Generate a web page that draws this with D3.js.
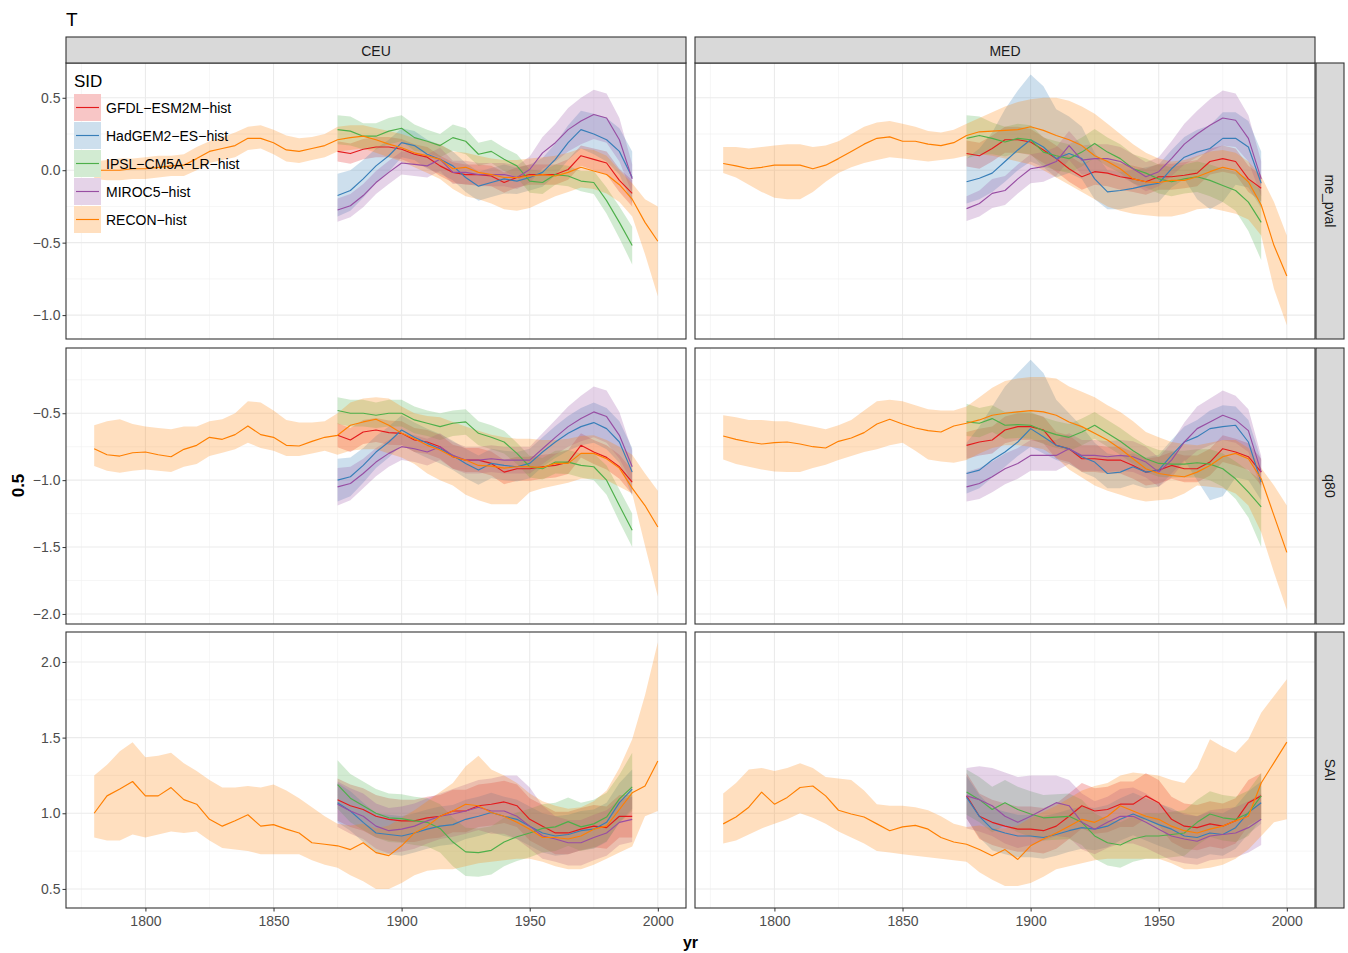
<!DOCTYPE html>
<html><head><meta charset="utf-8">
<script src="https://cdn.jsdelivr.net/npm/d3@7"></script>
<style>
body{margin:0;background:#fff;}
text{font-family:"Liberation Sans",Arial,Helvetica,sans-serif;}
</style>
</head><body>
<svg id="chart" width="1348" height="953"></svg>
<script>
// ---------------- DATA ----------------
const recon_years = [1780,1785,1790,1795,1800,1805,1810,1815,1820,1825,1830,1835,1840,1845,1850,1855,1860,1865,1870,1875,1880,1885,1890,1895,1900,1905,1910,1915,1920,1925,1930,1935,1940,1945,1950,1955,1960,1965,1970,1975,1980,1985,1990,1995,2000];
const model_years = [1875,1880,1885,1890,1895,1900,1905,1910,1915,1920,1925,1930,1935,1940,1945,1950,1955,1960,1965,1970,1975,1980,1985,1990];
const regions = ["CEU","MED"];
const metrics = ["me_pval","q80","SAI"];
const sid_keys = ["gfdl","hadgem","ipsl","miroc","recon"];
const sid_labels = ["GFDL\u2212ESM2M\u2212hist","HadGEM2\u2212ES\u2212hist","IPSL\u2212CM5A\u2212LR\u2212hist","MIROC5\u2212hist","RECON\u2212hist"];
const x_ticks = [1800,1850,1900,1950,2000];
const x_minor = [1775,1825,1875,1925,1975];
const y_ticks_me_pval = [-1.0,-0.5,0.0,0.5];
const y_minor_me_pval = [-0.75,-0.25,0.25];
const y_ticks_q80 = [-2.0,-1.5,-1.0,-0.5];
const y_minor_q80 = [-1.75,-1.25,-0.75,-0.25];
const y_ticks_SAI = [0.5,1.0,1.5,2.0];
const y_minor_SAI = [0.75,1.25,1.75];
const y_limits_me_pval = [-1.165,0.74];
const y_limits_q80 = [-2.075,-0.0125];
const y_limits_SAI = [0.374,2.198];
const x_limits = [1769,2011];

// CEU me_pval
const ceu_pval_recon = [0.0,0.0,0.0,0.01,0.01,0.02,0.03,0.035,0.08,0.13,0.15,0.17,0.22,0.22,0.19,0.14,0.13,0.15,0.17,0.21,0.225,0.235,0.21,0.18,0.155,0.12,0.1,0.075,0.01,0.02,-0.015,-0.03,-0.05,-0.05,-0.04,-0.03,-0.04,-0.015,0.02,-0.005,-0.03,-0.1,-0.2,-0.36,-0.49];
const ceu_pval_recon_hi = [0.06,0.07,0.08,0.08,0.09,0.1,0.1,0.11,0.16,0.2,0.23,0.26,0.3,0.31,0.28,0.24,0.22,0.23,0.25,0.3,0.31,0.31,0.29,0.27,0.25,0.22,0.2,0.18,0.13,0.12,0.1,0.08,0.07,0.07,0.08,0.09,0.1,0.12,0.15,0.14,0.1,0.0,-0.09,-0.2,-0.25];
const ceu_pval_recon_lo = [-0.06,-0.07,-0.07,-0.06,-0.06,-0.05,-0.04,-0.04,0.0,0.05,0.07,0.09,0.14,0.15,0.11,0.06,0.05,0.07,0.09,0.13,0.14,0.15,0.12,0.09,0.06,0.02,-0.02,-0.06,-0.13,-0.18,-0.2,-0.23,-0.27,-0.28,-0.26,-0.22,-0.18,-0.15,-0.12,-0.13,-0.16,-0.22,-0.32,-0.58,-0.87];
const ceu_pval_gfdl = [0.13,0.115,0.145,0.16,0.16,0.145,0.11,0.09,0.03,-0.015,-0.03,-0.03,-0.04,-0.085,-0.05,-0.03,-0.03,-0.03,0.005,0.1,0.075,0.05,-0.07,-0.16];
const ceu_pval_gfdl_lo = [0.06,0.045,0.075,0.09,0.09,0.075,0.04,0.02,-0.04,-0.085,-0.1,-0.1,-0.11,-0.155,-0.12,-0.1,-0.1,-0.1,-0.065,0.03,0.0,-0.03,-0.15,-0.25];
const ceu_pval_gfdl_hi = [0.2,0.185,0.215,0.23,0.23,0.215,0.18,0.16,0.1,0.055,0.04,0.04,0.03,-0.015,0.02,0.04,0.04,0.04,0.075,0.17,0.15,0.13,0.01,-0.07];
const ceu_pval_hadgem = [-0.175,-0.14,-0.06,0.03,0.1,0.19,0.17,0.11,0.075,0.03,-0.05,-0.11,-0.085,-0.06,-0.075,-0.05,-0.015,0.075,0.19,0.28,0.25,0.21,0.13,-0.05];
const ceu_pval_hadgem_lo = [-0.32,-0.28,-0.19,-0.09,-0.01,0.09,0.07,0.01,-0.025,-0.07,-0.15,-0.21,-0.185,-0.16,-0.165,-0.14,-0.115,-0.035,0.07,0.15,0.11,0.06,-0.03,-0.23];
const ceu_pval_hadgem_hi = [-0.025,0.0,0.07,0.15,0.21,0.29,0.27,0.21,0.175,0.13,0.05,-0.01,0.015,0.04,0.015,0.04,0.085,0.185,0.31,0.41,0.39,0.36,0.29,0.13];
const ceu_pval_ipsl = [0.28,0.27,0.235,0.235,0.27,0.29,0.225,0.2,0.17,0.225,0.2,0.11,0.13,0.075,0.03,-0.075,-0.085,-0.03,-0.04,-0.075,-0.085,-0.21,-0.36,-0.52];
const ceu_pval_ipsl_lo = [0.18,0.17,0.145,0.145,0.18,0.2,0.135,0.12,0.09,0.135,0.11,0.03,0.05,-0.005,-0.05,-0.155,-0.165,-0.1,-0.11,-0.145,-0.165,-0.3,-0.47,-0.65];
const ceu_pval_ipsl_hi = [0.38,0.37,0.325,0.325,0.36,0.38,0.315,0.28,0.25,0.315,0.29,0.19,0.21,0.155,0.11,0.005,-0.005,0.04,0.03,-0.005,-0.005,-0.12,-0.25,-0.39];
const ceu_pval_miroc = [-0.275,-0.245,-0.175,-0.085,-0.015,0.05,0.04,0.03,0.075,-0.015,-0.015,-0.03,-0.03,-0.03,-0.05,0.005,0.12,0.19,0.28,0.34,0.385,0.36,0.21,-0.06];
const ceu_pval_miroc_lo = [-0.355,-0.325,-0.255,-0.165,-0.095,-0.03,-0.04,-0.05,-0.005,-0.095,-0.095,-0.11,-0.11,-0.11,-0.13,-0.085,0.01,0.06,0.13,0.18,0.215,0.19,0.06,-0.16];
const ceu_pval_miroc_hi = [-0.195,-0.165,-0.095,-0.005,0.065,0.13,0.12,0.11,0.155,0.065,0.065,0.05,0.05,0.05,0.03,0.095,0.23,0.32,0.43,0.5,0.555,0.53,0.36,0.04];

// MED me_pval
const med_pval_recon = [0.046,0.03,0.01,0.02,0.035,0.035,0.035,0.01,0.035,0.08,0.13,0.18,0.22,0.23,0.2,0.2,0.18,0.17,0.19,0.24,0.265,0.27,0.275,0.28,0.3,0.275,0.24,0.21,0.17,0.1,0.06,0.01,-0.06,-0.08,-0.085,-0.07,-0.07,-0.045,-0.01,0.02,0.0,-0.08,-0.24,-0.52,-0.73];
const med_pval_recon_hi = [0.16,0.16,0.15,0.16,0.17,0.18,0.18,0.16,0.17,0.2,0.25,0.3,0.33,0.34,0.32,0.3,0.27,0.26,0.28,0.32,0.36,0.4,0.44,0.47,0.49,0.5,0.5,0.48,0.44,0.39,0.32,0.25,0.18,0.12,0.08,0.06,0.07,0.1,0.13,0.14,0.12,0.06,-0.04,-0.22,-0.45];
const med_pval_recon_lo = [-0.02,-0.05,-0.1,-0.15,-0.19,-0.2,-0.2,-0.15,-0.08,-0.02,0.02,0.05,0.07,0.09,0.08,0.07,0.06,0.07,0.08,0.1,0.11,0.1,0.08,0.06,0.04,0.0,-0.05,-0.1,-0.15,-0.2,-0.25,-0.28,-0.3,-0.31,-0.32,-0.32,-0.3,-0.27,-0.26,-0.28,-0.3,-0.34,-0.45,-0.82,-1.07];
const med_pval_gfdl = [0.115,0.1,0.15,0.21,0.21,0.195,0.14,0.08,0.01,-0.045,-0.01,-0.02,-0.045,-0.06,-0.08,-0.045,-0.045,-0.035,-0.02,0.06,0.08,0.06,-0.06,-0.125];
const med_pval_gfdl_lo = [0.025,0.01,0.06,0.12,0.12,0.105,0.05,-0.01,-0.08,-0.135,-0.1,-0.11,-0.135,-0.15,-0.17,-0.135,-0.135,-0.125,-0.11,-0.03,-0.01,-0.03,-0.15,-0.215];
const med_pval_gfdl_hi = [0.205,0.19,0.24,0.3,0.3,0.285,0.23,0.17,0.1,0.045,0.08,0.07,0.045,0.03,0.01,0.045,0.045,0.055,0.07,0.15,0.17,0.15,0.03,-0.035];
const med_pval_hadgem = [-0.08,-0.055,-0.02,0.06,0.14,0.21,0.16,0.08,0.115,0.08,-0.06,-0.15,-0.14,-0.125,-0.105,-0.09,0.01,0.09,0.125,0.15,0.22,0.22,0.16,-0.09];
const med_pval_hadgem_lo = [-0.23,-0.2,-0.15,-0.08,0.0,0.06,0.02,-0.05,-0.02,-0.06,-0.2,-0.27,-0.27,-0.25,-0.23,-0.22,-0.12,-0.06,-0.2,-0.27,-0.22,-0.1,-0.12,-0.26];
const med_pval_hadgem_hi = [0.08,0.15,0.26,0.42,0.55,0.66,0.58,0.42,0.37,0.3,0.12,0.0,-0.01,0.0,0.02,0.04,0.14,0.23,0.28,0.31,0.4,0.4,0.34,0.13];
const med_pval_ipsl = [0.22,0.24,0.22,0.195,0.22,0.21,0.125,0.1,0.08,0.125,0.185,0.125,0.08,0.01,-0.02,-0.06,-0.08,-0.06,-0.045,-0.07,-0.105,-0.14,-0.22,-0.36];
const med_pval_ipsl_lo = [0.08,0.11,0.11,0.095,0.12,0.11,0.025,0.0,-0.02,0.025,0.085,0.025,-0.02,-0.09,-0.12,-0.16,-0.18,-0.16,-0.15,-0.18,-0.22,-0.28,-0.42,-0.62];
const med_pval_ipsl_hi = [0.38,0.37,0.33,0.3,0.32,0.31,0.225,0.2,0.18,0.225,0.285,0.225,0.18,0.11,0.08,0.04,0.02,0.04,0.06,0.04,0.01,-0.01,-0.06,-0.14];
const med_pval_miroc = [-0.265,-0.23,-0.16,-0.14,-0.06,0.01,0.025,0.06,0.17,0.07,0.08,0.08,0.06,0.01,-0.045,-0.01,0.08,0.18,0.25,0.31,0.36,0.345,0.22,-0.06];
const med_pval_miroc_lo = [-0.35,-0.32,-0.26,-0.24,-0.16,-0.09,-0.08,-0.04,0.07,-0.03,-0.02,-0.02,-0.04,-0.09,-0.145,-0.11,-0.04,0.04,0.09,0.13,0.17,0.16,0.06,-0.18];
const med_pval_miroc_hi = [-0.18,-0.14,-0.06,-0.04,0.04,0.11,0.125,0.16,0.27,0.17,0.18,0.18,0.16,0.11,0.055,0.09,0.2,0.32,0.41,0.49,0.55,0.53,0.38,0.06];

// CEU q80
const ceu_q80_recon = [-0.765,-0.81,-0.82,-0.795,-0.79,-0.81,-0.825,-0.77,-0.74,-0.68,-0.695,-0.66,-0.595,-0.66,-0.68,-0.74,-0.745,-0.71,-0.68,-0.665,-0.59,-0.565,-0.545,-0.59,-0.65,-0.69,-0.74,-0.775,-0.825,-0.85,-0.89,-0.895,-0.91,-0.9,-0.9,-0.905,-0.875,-0.875,-0.8,-0.8,-0.84,-0.91,-1.06,-1.19,-1.35];
const ceu_q80_recon_hi = [-0.59,-0.56,-0.545,-0.58,-0.6,-0.61,-0.62,-0.6,-0.6,-0.56,-0.545,-0.5,-0.41,-0.42,-0.48,-0.55,-0.57,-0.57,-0.56,-0.5,-0.42,-0.39,-0.38,-0.39,-0.45,-0.5,-0.52,-0.53,-0.565,-0.6,-0.63,-0.66,-0.68,-0.69,-0.69,-0.7,-0.7,-0.69,-0.67,-0.665,-0.7,-0.75,-0.81,-0.95,-1.08];
const ceu_q80_recon_lo = [-0.895,-0.93,-0.945,-0.93,-0.92,-0.93,-0.94,-0.9,-0.88,-0.82,-0.795,-0.77,-0.72,-0.76,-0.78,-0.82,-0.82,-0.8,-0.78,-0.81,-0.78,-0.77,-0.77,-0.8,-0.83,-0.88,-0.95,-1.0,-1.04,-1.11,-1.15,-1.18,-1.18,-1.18,-1.09,-1.06,-1.04,-1.02,-0.99,-0.99,-1.0,-1.05,-1.1,-1.49,-1.87];
const ceu_q80_gfdl = [-0.665,-0.7,-0.64,-0.625,-0.645,-0.65,-0.7,-0.715,-0.75,-0.825,-0.85,-0.85,-0.875,-0.94,-0.915,-0.915,-0.9,-0.89,-0.865,-0.74,-0.79,-0.83,-0.9,-1.015];
const ceu_q80_gfdl_lo = [-0.755,-0.79,-0.73,-0.715,-0.735,-0.74,-0.79,-0.805,-0.84,-0.915,-0.94,-0.94,-0.965,-1.03,-1.005,-1.005,-0.99,-0.98,-0.955,-0.83,-0.88,-0.92,-0.99,-1.105];
const ceu_q80_gfdl_hi = [-0.575,-0.61,-0.55,-0.535,-0.555,-0.56,-0.61,-0.625,-0.66,-0.735,-0.76,-0.76,-0.785,-0.85,-0.825,-0.825,-0.81,-0.8,-0.775,-0.65,-0.7,-0.74,-0.81,-0.925];
const ceu_q80_hadgem = [-1.0,-0.975,-0.89,-0.79,-0.715,-0.625,-0.68,-0.725,-0.765,-0.815,-0.875,-0.925,-0.875,-0.89,-0.9,-0.875,-0.79,-0.715,-0.65,-0.6,-0.57,-0.615,-0.715,-0.94];
const ceu_q80_hadgem_lo = [-1.16,-1.12,-1.02,-0.91,-0.83,-0.735,-0.79,-0.835,-0.875,-0.925,-0.985,-1.035,-0.985,-1.0,-1.01,-0.985,-0.9,-0.835,-0.78,-0.74,-0.72,-0.77,-0.87,-1.12];
const ceu_q80_hadgem_hi = [-0.84,-0.83,-0.76,-0.67,-0.6,-0.515,-0.57,-0.615,-0.655,-0.705,-0.765,-0.815,-0.765,-0.78,-0.79,-0.765,-0.68,-0.595,-0.52,-0.46,-0.42,-0.46,-0.56,-0.76];
const ceu_q80_ipsl = [-0.48,-0.5,-0.5,-0.515,-0.5,-0.5,-0.55,-0.575,-0.6,-0.575,-0.565,-0.65,-0.68,-0.715,-0.8,-0.9,-0.915,-0.865,-0.865,-0.89,-0.9,-1.0,-1.19,-1.375];
const ceu_q80_ipsl_lo = [-0.58,-0.6,-0.6,-0.61,-0.6,-0.6,-0.65,-0.67,-0.7,-0.67,-0.66,-0.74,-0.77,-0.8,-0.88,-0.98,-0.995,-0.95,-0.955,-0.98,-1.0,-1.11,-1.31,-1.5];
const ceu_q80_ipsl_hi = [-0.38,-0.4,-0.4,-0.42,-0.4,-0.4,-0.45,-0.48,-0.5,-0.48,-0.47,-0.56,-0.59,-0.63,-0.72,-0.82,-0.835,-0.78,-0.775,-0.8,-0.8,-0.89,-1.07,-1.25];
const ceu_q80_miroc = [-1.05,-1.025,-0.95,-0.865,-0.8,-0.75,-0.765,-0.79,-0.75,-0.815,-0.85,-0.85,-0.84,-0.85,-0.85,-0.85,-0.765,-0.68,-0.6,-0.54,-0.49,-0.525,-0.665,-0.9];
const ceu_q80_miroc_lo = [-1.19,-1.15,-1.06,-0.97,-0.9,-0.85,-0.865,-0.89,-0.85,-0.915,-0.95,-0.95,-0.94,-0.95,-0.95,-0.95,-0.88,-0.81,-0.75,-0.71,-0.68,-0.72,-0.84,-1.02];
const ceu_q80_miroc_hi = [-0.91,-0.9,-0.84,-0.76,-0.7,-0.65,-0.665,-0.69,-0.65,-0.715,-0.75,-0.75,-0.74,-0.75,-0.75,-0.75,-0.65,-0.55,-0.45,-0.37,-0.3,-0.33,-0.49,-0.78];

// MED q80
const med_q80_recon = [-0.67,-0.695,-0.715,-0.73,-0.72,-0.715,-0.73,-0.75,-0.76,-0.71,-0.685,-0.645,-0.58,-0.545,-0.58,-0.61,-0.63,-0.64,-0.595,-0.575,-0.55,-0.515,-0.5,-0.49,-0.48,-0.49,-0.515,-0.565,-0.6,-0.65,-0.7,-0.765,-0.84,-0.915,-0.95,-0.965,-0.975,-0.94,-0.89,-0.825,-0.8,-0.84,-0.99,-1.265,-1.54];
const med_q80_recon_hi = [-0.515,-0.53,-0.55,-0.55,-0.56,-0.56,-0.58,-0.6,-0.62,-0.59,-0.55,-0.48,-0.41,-0.4,-0.41,-0.44,-0.47,-0.48,-0.48,-0.45,-0.38,-0.31,-0.26,-0.24,-0.23,-0.23,-0.24,-0.3,-0.34,-0.38,-0.44,-0.49,-0.56,-0.64,-0.68,-0.715,-0.73,-0.74,-0.72,-0.7,-0.7,-0.76,-0.91,-1.04,-1.19];
const med_q80_recon_lo = [-0.845,-0.88,-0.9,-0.92,-0.935,-0.94,-0.94,-0.91,-0.885,-0.85,-0.82,-0.79,-0.77,-0.74,-0.72,-0.78,-0.845,-0.86,-0.87,-0.85,-0.8,-0.76,-0.74,-0.74,-0.75,-0.77,-0.83,-0.92,-0.98,-1.04,-1.08,-1.11,-1.14,-1.16,-1.15,-1.14,-1.1,-1.04,-1.05,-1.06,-1.1,-1.19,-1.39,-1.69,-1.97];
const med_q80_gfdl = [-0.74,-0.715,-0.7,-0.625,-0.6,-0.6,-0.625,-0.74,-0.765,-0.84,-0.84,-0.85,-0.85,-0.89,-0.94,-0.925,-0.89,-0.915,-0.915,-0.865,-0.765,-0.79,-0.825,-0.94];
const med_q80_gfdl_lo = [-0.84,-0.815,-0.8,-0.725,-0.7,-0.7,-0.725,-0.84,-0.865,-0.94,-0.94,-0.95,-0.95,-0.99,-1.04,-1.025,-0.99,-1.015,-1.015,-0.965,-0.865,-0.89,-0.925,-1.04];
const med_q80_gfdl_hi = [-0.64,-0.615,-0.6,-0.525,-0.5,-0.5,-0.525,-0.64,-0.665,-0.74,-0.74,-0.75,-0.75,-0.79,-0.84,-0.825,-0.79,-0.815,-0.815,-0.765,-0.665,-0.69,-0.725,-0.84];
const med_q80_hadgem = [-0.95,-0.925,-0.85,-0.79,-0.715,-0.615,-0.675,-0.74,-0.765,-0.825,-0.865,-0.95,-0.94,-0.9,-0.94,-0.925,-0.815,-0.715,-0.675,-0.615,-0.6,-0.59,-0.715,-1.015];
const med_q80_hadgem_lo = [-1.1,-1.06,-0.98,-0.9,-0.82,-0.75,-0.8,-0.85,-0.88,-0.94,-0.98,-1.06,-1.06,-1.03,-1.06,-1.05,-0.95,-0.85,-1.0,-1.15,-1.12,-0.98,-1.0,-1.15];
const med_q80_hadgem_hi = [-0.72,-0.6,-0.45,-0.3,-0.2,-0.1,-0.2,-0.4,-0.5,-0.6,-0.72,-0.8,-0.82,-0.8,-0.83,-0.81,-0.7,-0.6,-0.55,-0.48,-0.44,-0.45,-0.55,-0.85];
const med_q80_ipsl = [-0.565,-0.575,-0.54,-0.59,-0.585,-0.59,-0.63,-0.66,-0.68,-0.64,-0.59,-0.65,-0.71,-0.78,-0.84,-0.875,-0.88,-0.88,-0.87,-0.88,-0.915,-0.99,-1.09,-1.2];
const med_q80_ipsl_lo = [-0.67,-0.68,-0.64,-0.69,-0.685,-0.69,-0.73,-0.76,-0.78,-0.74,-0.69,-0.75,-0.81,-0.88,-0.94,-0.975,-0.98,-0.98,-0.98,-1.0,-1.05,-1.14,-1.28,-1.5];
const med_q80_ipsl_hi = [-0.43,-0.46,-0.44,-0.49,-0.485,-0.49,-0.53,-0.56,-0.58,-0.54,-0.49,-0.55,-0.61,-0.68,-0.74,-0.775,-0.78,-0.78,-0.77,-0.77,-0.8,-0.86,-0.93,-1.0];
const med_q80_miroc = [-1.05,-1.025,-0.975,-0.915,-0.875,-0.815,-0.815,-0.815,-0.765,-0.815,-0.815,-0.825,-0.815,-0.825,-0.865,-0.94,-0.85,-0.715,-0.615,-0.565,-0.515,-0.55,-0.63,-0.94];
const med_q80_miroc_lo = [-1.16,-1.14,-1.09,-1.03,-0.99,-0.93,-0.93,-0.93,-0.88,-0.93,-0.93,-0.94,-0.93,-0.94,-0.98,-1.05,-0.98,-0.86,-0.78,-0.74,-0.7,-0.72,-0.79,-1.06];
const med_q80_miroc_hi = [-0.94,-0.91,-0.86,-0.8,-0.76,-0.7,-0.7,-0.7,-0.65,-0.7,-0.7,-0.71,-0.7,-0.71,-0.75,-0.83,-0.72,-0.57,-0.45,-0.39,-0.33,-0.37,-0.47,-0.82];

// CEU SAI
const ceu_sai_recon = [1.0,1.115,1.16,1.21,1.115,1.115,1.17,1.09,1.06,0.96,0.915,0.95,0.99,0.915,0.925,0.895,0.87,0.805,0.795,0.785,0.76,0.805,0.74,0.72,0.785,0.87,0.915,0.98,1.015,1.06,1.05,1.005,0.98,0.94,0.895,0.84,0.84,0.83,0.85,0.895,0.915,1.025,1.135,1.18,1.345];
const ceu_sai_recon_hi = [1.25,1.32,1.41,1.47,1.37,1.38,1.4,1.33,1.28,1.22,1.17,1.17,1.18,1.17,1.19,1.15,1.1,1.04,0.98,0.93,0.92,0.93,0.9,0.92,0.97,1.02,1.08,1.14,1.2,1.31,1.38,1.29,1.25,1.2,1.13,1.08,1.05,1.03,1.04,1.08,1.15,1.3,1.49,1.78,2.13];
const ceu_sai_recon_lo = [0.84,0.82,0.82,0.86,0.84,0.86,0.88,0.87,0.88,0.82,0.77,0.76,0.75,0.73,0.73,0.73,0.73,0.69,0.66,0.64,0.59,0.55,0.5,0.5,0.54,0.59,0.62,0.63,0.63,0.65,0.67,0.68,0.69,0.7,0.7,0.68,0.65,0.63,0.63,0.66,0.7,0.74,0.78,0.98,1.015];
const ceu_sai_gfdl = [1.09,1.05,1.025,0.98,0.96,0.95,0.95,0.97,0.98,1.015,1.015,1.05,1.06,1.075,1.05,0.96,0.915,0.87,0.87,0.895,0.915,0.905,0.98,0.98];
const ceu_sai_gfdl_lo = [0.95,0.91,0.885,0.84,0.82,0.81,0.81,0.83,0.84,0.875,0.875,0.91,0.92,0.935,0.91,0.82,0.775,0.73,0.73,0.755,0.775,0.765,0.84,0.84];
const ceu_sai_gfdl_hi = [1.23,1.19,1.165,1.12,1.1,1.09,1.09,1.11,1.12,1.155,1.155,1.19,1.2,1.215,1.19,1.1,1.055,1.01,1.01,1.035,1.055,1.045,1.12,1.12];
const ceu_sai_hadgem = [1.07,1.015,0.94,0.87,0.86,0.85,0.87,0.895,0.915,0.925,0.96,0.98,1.005,0.98,0.96,0.915,0.87,0.85,0.86,0.885,0.895,0.94,1.07,1.16];
const ceu_sai_hadgem_lo = [0.94,0.885,0.81,0.74,0.73,0.72,0.74,0.765,0.785,0.795,0.83,0.85,0.875,0.85,0.83,0.785,0.74,0.72,0.73,0.755,0.765,0.81,0.94,1.03];
const ceu_sai_hadgem_hi = [1.2,1.145,1.07,1.0,0.99,0.98,1.0,1.025,1.045,1.055,1.09,1.11,1.135,1.11,1.09,1.045,1.0,0.98,0.99,1.015,1.025,1.07,1.2,1.29];
const ceu_sai_ipsl = [1.19,1.1,1.05,1.0,0.97,0.965,0.95,0.94,0.9,0.81,0.745,0.74,0.755,0.81,0.845,0.87,0.9,0.91,0.945,0.91,0.93,0.975,1.095,1.175];
const ceu_sai_ipsl_lo = [1.03,0.94,0.89,0.84,0.81,0.805,0.79,0.78,0.74,0.65,0.585,0.58,0.595,0.65,0.685,0.71,0.74,0.75,0.785,0.75,0.77,0.815,0.935,1.015];
const ceu_sai_ipsl_hi = [1.35,1.26,1.21,1.16,1.13,1.125,1.11,1.1,1.06,0.97,0.905,0.9,0.915,0.97,1.005,1.03,1.06,1.07,1.105,1.07,1.09,1.135,1.255,1.4];
const ceu_sai_miroc = [1.06,1.015,0.98,0.915,0.885,0.895,0.915,0.95,0.98,0.995,1.015,1.04,1.015,1.015,0.98,0.915,0.85,0.83,0.805,0.805,0.84,0.87,0.94,0.96];
const ceu_sai_miroc_lo = [0.91,0.865,0.83,0.765,0.735,0.745,0.765,0.8,0.83,0.845,0.865,0.89,0.865,0.865,0.83,0.765,0.7,0.68,0.655,0.655,0.69,0.72,0.79,0.81];
const ceu_sai_miroc_hi = [1.21,1.165,1.13,1.065,1.035,1.045,1.065,1.1,1.13,1.16,1.19,1.22,1.23,1.25,1.25,1.17,1.05,0.98,0.955,0.955,0.99,1.02,1.09,1.11];

// MED SAI
const med_sai_recon = [0.93,0.975,1.04,1.14,1.06,1.105,1.17,1.18,1.115,1.02,0.995,0.975,0.93,0.885,0.91,0.92,0.895,0.84,0.81,0.795,0.76,0.72,0.76,0.695,0.785,0.83,0.87,0.915,0.96,0.94,0.98,1.05,1.015,0.98,0.96,0.915,0.885,0.87,0.895,0.915,0.95,0.98,1.2,1.335,1.47];
const med_sai_recon_hi = [1.13,1.2,1.29,1.3,1.28,1.3,1.33,1.3,1.24,1.23,1.22,1.15,1.06,1.05,1.05,1.04,1.02,0.98,0.93,0.91,0.92,0.9,0.9,0.92,0.97,1.01,1.05,1.1,1.15,1.18,1.2,1.25,1.27,1.26,1.25,1.22,1.2,1.3,1.49,1.44,1.4,1.49,1.665,1.775,1.885];
const med_sai_recon_lo = [0.8,0.82,0.86,0.9,0.93,0.96,1.0,0.97,0.93,0.88,0.84,0.8,0.75,0.74,0.73,0.72,0.71,0.7,0.69,0.68,0.61,0.56,0.52,0.52,0.54,0.58,0.63,0.65,0.67,0.69,0.7,0.7,0.7,0.7,0.7,0.67,0.63,0.63,0.64,0.66,0.7,0.76,0.85,0.94,0.96];
const med_sai_gfdl = [1.115,0.98,0.94,0.915,0.895,0.895,0.885,0.915,0.98,1.05,1.015,1.025,1.06,1.06,1.115,1.07,0.96,0.915,0.905,0.93,0.915,0.95,1.07,1.115];
const med_sai_gfdl_lo = [0.965,0.83,0.79,0.765,0.745,0.745,0.735,0.765,0.83,0.9,0.865,0.875,0.91,0.91,0.965,0.92,0.81,0.765,0.755,0.78,0.765,0.8,0.92,0.965];
const med_sai_gfdl_hi = [1.265,1.13,1.09,1.065,1.045,1.045,1.035,1.065,1.13,1.2,1.165,1.175,1.21,1.21,1.265,1.22,1.11,1.065,1.055,1.08,1.065,1.1,1.22,1.265];
const med_sai_hadgem = [1.105,0.98,0.895,0.87,0.85,0.85,0.84,0.86,0.885,0.905,0.895,0.915,0.96,0.995,0.96,0.925,0.895,0.85,0.84,0.87,0.86,0.905,1.005,1.07];
const med_sai_hadgem_lo = [0.965,0.84,0.755,0.73,0.71,0.71,0.7,0.72,0.745,0.765,0.755,0.775,0.82,0.855,0.82,0.785,0.755,0.71,0.7,0.73,0.72,0.765,0.865,0.93];
const med_sai_hadgem_hi = [1.245,1.12,1.035,1.01,0.99,0.99,0.98,1.0,1.025,1.045,1.035,1.055,1.1,1.135,1.1,1.065,1.035,0.99,0.98,1.01,1.0,1.045,1.145,1.21];
const med_sai_ipsl = [1.14,1.09,1.025,1.07,1.025,0.995,0.97,0.975,0.98,0.94,0.85,0.805,0.79,0.83,0.85,0.85,0.86,0.87,0.94,0.995,0.97,0.96,1.0,1.115];
const med_sai_ipsl_lo = [0.99,0.94,0.875,0.92,0.875,0.845,0.82,0.825,0.83,0.79,0.7,0.655,0.64,0.68,0.7,0.7,0.71,0.72,0.79,0.845,0.82,0.81,0.85,0.965];
const med_sai_ipsl_hi = [1.29,1.24,1.175,1.22,1.175,1.145,1.12,1.125,1.13,1.09,1.0,0.955,0.94,0.98,1.0,1.0,1.01,1.02,1.09,1.145,1.12,1.11,1.15,1.265];
const med_sai_miroc = [1.115,1.09,1.05,0.98,0.94,0.98,1.025,1.07,1.05,0.94,0.895,0.94,0.98,0.98,0.94,0.895,0.85,0.83,0.815,0.85,0.86,0.87,0.905,0.96];
const med_sai_miroc_lo = [0.9,0.88,0.85,0.8,0.77,0.79,0.82,0.85,0.84,0.76,0.73,0.77,0.8,0.8,0.77,0.73,0.69,0.67,0.66,0.69,0.7,0.71,0.74,0.79];
const med_sai_miroc_hi = [1.3,1.31,1.3,1.27,1.24,1.25,1.25,1.25,1.22,1.13,1.08,1.11,1.16,1.17,1.13,1.07,1.02,1.0,0.98,1.02,1.03,1.04,1.08,1.13];

// ---------------- TABLE BUILT FROM ARRAYS ----------------
const table = {
  CEU: {
    me_pval: {gfdl:[ceu_pval_gfdl,ceu_pval_gfdl_lo,ceu_pval_gfdl_hi], hadgem:[ceu_pval_hadgem,ceu_pval_hadgem_lo,ceu_pval_hadgem_hi], ipsl:[ceu_pval_ipsl,ceu_pval_ipsl_lo,ceu_pval_ipsl_hi], miroc:[ceu_pval_miroc,ceu_pval_miroc_lo,ceu_pval_miroc_hi], recon:[ceu_pval_recon,ceu_pval_recon_lo,ceu_pval_recon_hi]},
    q80: {gfdl:[ceu_q80_gfdl,ceu_q80_gfdl_lo,ceu_q80_gfdl_hi], hadgem:[ceu_q80_hadgem,ceu_q80_hadgem_lo,ceu_q80_hadgem_hi], ipsl:[ceu_q80_ipsl,ceu_q80_ipsl_lo,ceu_q80_ipsl_hi], miroc:[ceu_q80_miroc,ceu_q80_miroc_lo,ceu_q80_miroc_hi], recon:[ceu_q80_recon,ceu_q80_recon_lo,ceu_q80_recon_hi]},
    SAI: {gfdl:[ceu_sai_gfdl,ceu_sai_gfdl_lo,ceu_sai_gfdl_hi], hadgem:[ceu_sai_hadgem,ceu_sai_hadgem_lo,ceu_sai_hadgem_hi], ipsl:[ceu_sai_ipsl,ceu_sai_ipsl_lo,ceu_sai_ipsl_hi], miroc:[ceu_sai_miroc,ceu_sai_miroc_lo,ceu_sai_miroc_hi], recon:[ceu_sai_recon,ceu_sai_recon_lo,ceu_sai_recon_hi]}
  },
  MED: {
    me_pval: {gfdl:[med_pval_gfdl,med_pval_gfdl_lo,med_pval_gfdl_hi], hadgem:[med_pval_hadgem,med_pval_hadgem_lo,med_pval_hadgem_hi], ipsl:[med_pval_ipsl,med_pval_ipsl_lo,med_pval_ipsl_hi], miroc:[med_pval_miroc,med_pval_miroc_lo,med_pval_miroc_hi], recon:[med_pval_recon,med_pval_recon_lo,med_pval_recon_hi]},
    q80: {gfdl:[med_q80_gfdl,med_q80_gfdl_lo,med_q80_gfdl_hi], hadgem:[med_q80_hadgem,med_q80_hadgem_lo,med_q80_hadgem_hi], ipsl:[med_q80_ipsl,med_q80_ipsl_lo,med_q80_ipsl_hi], miroc:[med_q80_miroc,med_q80_miroc_lo,med_q80_miroc_hi], recon:[med_q80_recon,med_q80_recon_lo,med_q80_recon_hi]},
    SAI: {gfdl:[med_sai_gfdl,med_sai_gfdl_lo,med_sai_gfdl_hi], hadgem:[med_sai_hadgem,med_sai_hadgem_lo,med_sai_hadgem_hi], ipsl:[med_sai_ipsl,med_sai_ipsl_lo,med_sai_ipsl_hi], miroc:[med_sai_miroc,med_sai_miroc_lo,med_sai_miroc_hi], recon:[med_sai_recon,med_sai_recon_lo,med_sai_recon_hi]}
  }
};
const yTicks = {me_pval:y_ticks_me_pval, q80:y_ticks_q80, SAI:y_ticks_SAI};
const yMinor = {me_pval:y_minor_me_pval, q80:y_minor_q80, SAI:y_minor_SAI};
const yLim = {me_pval:y_limits_me_pval, q80:y_limits_q80, SAI:y_limits_SAI};

// ---------------- LAYOUT / STYLE ----------------
const colors = {gfdl:"#E41A1C", hadgem:"#377EB8", ipsl:"#4DAF4A", miroc:"#984EA3", recon:"#FF7F00"};
const colX = [66, 695], panelW = 620;
const rowY = [63, 348, 632], panelH = 276;
const stripTop = 37, stripH = 26, stripRX = 1316, stripW = 28;
const FONT = '"Liberation Sans",Arial,Helvetica,sans-serif';

const svg = d3.select("#chart");
svg.append("rect").attr("width",1348).attr("height",953).attr("fill","#fff");
const x = d3.scaleLinear().domain(x_limits).range([0, panelW]);
const fmt = d3.format(".1f");
const defs = svg.append("defs");

regions.forEach((reg, c) => {
  metrics.forEach((met, r) => {
    const g = svg.append("g").attr("transform", `translate(${colX[c]},${rowY[r]})`);
    const y = d3.scaleLinear().domain(yLim[met]).range([panelH, 0]);
    const cid = `clip-${c}-${r}`;
    defs.append("clipPath").attr("id", cid).append("rect").attr("width", panelW).attr("height", panelH);
    g.append("rect").attr("width", panelW).attr("height", panelH).attr("fill", "#fff");
    const grid = g.append("g");
    grid.selectAll(".vm").data(x_minor).join("line").attr("x1", d=>x(d)).attr("x2", d=>x(d)).attr("y1",0).attr("y2",panelH).attr("stroke","#F0F0F0").attr("stroke-width",0.6);
    grid.selectAll(".hm").data(yMinor[met]).join("line").attr("y1", d=>y(d)).attr("y2", d=>y(d)).attr("x1",0).attr("x2",panelW).attr("stroke","#F0F0F0").attr("stroke-width",0.6);
    grid.selectAll(".vM").data(x_ticks).join("line").attr("x1", d=>x(d)).attr("x2", d=>x(d)).attr("y1",0).attr("y2",panelH).attr("stroke","#EBEBEB").attr("stroke-width",1.1);
    grid.selectAll(".hM").data(yTicks[met]).join("line").attr("y1", d=>y(d)).attr("y2", d=>y(d)).attr("x1",0).attr("x2",panelW).attr("stroke","#EBEBEB").attr("stroke-width",1.1);

    const plot = g.append("g").attr("clip-path", `url(#${cid})`);
    const seriesData = sid_keys.map(k => {
      const [mid, lo, hi] = table[reg][met][k];
      const yrs = k === "recon" ? recon_years : model_years;
      return {k, pts: yrs.map((yr, i) => ({yr, mid: mid[i], lo: lo[i], hi: hi[i]}))};
    });
    const area = d3.area().x(d=>x(d.yr)).y0(d=>y(d.lo)).y1(d=>y(d.hi));
    const line = d3.line().x(d=>x(d.yr)).y(d=>y(d.mid));
    seriesData.forEach(s => {
      plot.append("path").attr("d", area(s.pts)).attr("fill", colors[s.k]).attr("fill-opacity", 0.25).attr("stroke","none");
    });
    seriesData.forEach(s => {
      plot.append("path").attr("d", line(s.pts)).attr("fill","none").attr("stroke", colors[s.k]).attr("stroke-width", 1.15).attr("stroke-linejoin","round");
    });
    g.append("rect").attr("width", panelW).attr("height", panelH).attr("fill","none").attr("stroke","#333").attr("stroke-width",1.1);

    if (c === 0) {
      const ax = g.append("g").call(d3.axisLeft(y).tickValues(yTicks[met]).tickSize(3.5).tickPadding(2).tickFormat(fmt));
      ax.select(".domain").remove();
      ax.selectAll(".tick line").attr("stroke","#333");
      ax.selectAll("text").attr("fill","#4D4D4D").style("font-family",FONT).style("font-size","14px");
    }
    if (r === 2) {
      const ax = g.append("g").attr("transform",`translate(0,${panelH})`).call(d3.axisBottom(x).tickValues(x_ticks).tickSize(3.5).tickPadding(5).tickFormat(d3.format("d")));
      ax.select(".domain").remove();
      ax.selectAll(".tick line").attr("stroke","#333");
      ax.selectAll("text").attr("fill","#4D4D4D").style("font-family",FONT).style("font-size","14px");
    }
  });
  // top strip
  svg.append("rect").attr("x", colX[c]).attr("y", stripTop).attr("width", panelW).attr("height", stripH).attr("fill","#D9D9D9").attr("stroke","#333").attr("stroke-width",1.1);
  svg.append("text").attr("x", colX[c] + panelW/2).attr("y", stripTop + stripH/2 + 1).attr("text-anchor","middle").attr("dominant-baseline","central").attr("fill","#1A1A1A").style("font-size","14px").text(reg);
});

metrics.forEach((met, r) => {
  svg.append("rect").attr("x", stripRX).attr("y", rowY[r]).attr("width", stripW).attr("height", panelH).attr("fill","#D9D9D9").attr("stroke","#333").attr("stroke-width",1.1);
  svg.append("text").attr("transform", `translate(${stripRX + stripW/2},${rowY[r] + panelH/2}) rotate(90)`).attr("text-anchor","middle").attr("dominant-baseline","central").attr("fill","#1A1A1A").style("font-size","14px").text(met);
});

// titles
svg.append("text").attr("x", 66).attr("y", 26).attr("fill","#000").style("font-size","19px").text("T");
svg.append("text").attr("x", (colX[0] + colX[1] + panelW)/2).attr("y", 948).attr("text-anchor","middle").attr("fill","#000").style("font-size","16px").style("font-weight","bold").text("yr");
svg.append("text").attr("transform", `translate(24,${rowY[0] + (rowY[2] + panelH - rowY[0])/2}) rotate(-90)`).attr("text-anchor","middle").attr("fill","#000").style("font-size","17px").style("font-weight","bold").text("0.5");

// legend (inside top-left panel, transparent background)
const lg = svg.append("g");
lg.append("text").attr("x", 74).attr("y", 87).attr("fill","#000").style("font-size","17px").text("SID");
sid_keys.forEach((k, i) => {
  const ty = 94 + i * 28;
  lg.append("rect").attr("x", 74).attr("y", ty).attr("width", 27).attr("height", 27).attr("fill","#fff");
  lg.append("rect").attr("x", 74).attr("y", ty).attr("width", 27).attr("height", 27).attr("fill", colors[k]).attr("fill-opacity", 0.25);
  lg.append("line").attr("x1", 76).attr("x2", 99).attr("y1", ty + 13.5).attr("y2", ty + 13.5).attr("stroke", colors[k]).attr("stroke-width", 1.15);
  lg.append("text").attr("x", 106).attr("y", ty + 13.5).attr("dominant-baseline","central").attr("fill","#000").style("font-size","14px").text(sid_labels[i]);
});
</script>
</body></html>
